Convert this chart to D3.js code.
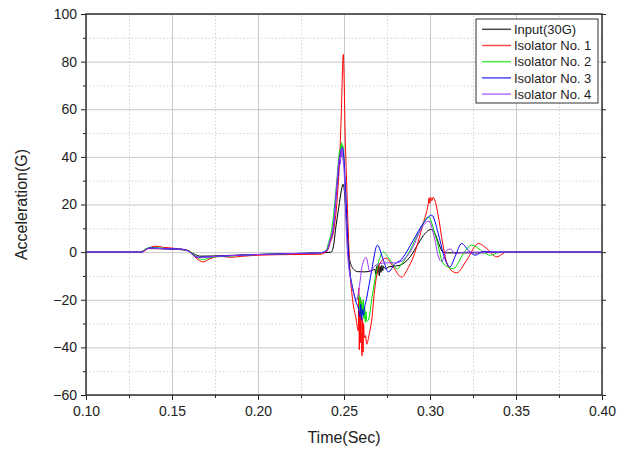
<!DOCTYPE html>
<html>
<head>
<meta charset="utf-8">
<script src="https://cdn.jsdelivr.net/npm/d3@7"></script>
<style>
body{margin:0;background:#fff;}
text{font-family:"Liberation Sans",Arial,sans-serif;fill:#222;}
</style>
</head>
<body>
<div id="container"></div>
<script>
let w = 628;
let h = 450;

// data: [time (s), acceleration (G)]
let legendLabels = ["Input(30G)", "Isolator No. 1", "Isolator No. 2", "Isolator No. 3", "Isolator No. 4"];
let lineColors = ["#000000", "#ff0000", "#00e000", "#0000ff", "#9933ff"];
let xMajor = [0.10, 0.15, 0.20, 0.25, 0.30, 0.35, 0.40];
let xMinor = [0.125, 0.175, 0.225, 0.275, 0.325, 0.375];
let yMajor = [-60, -40, -20, 0, 20, 40, 60, 80, 100];
let yMinor = [-50, -30, -10, 10, 30, 50, 70, 90];

let inputData = [[0.100,0],[0.131,0],[0.134,0.8],[0.1362,1.5],[0.150,1.2],[0.1585,0.8],[0.162,-0.5],[0.1663,-1.7],[0.175,-1.6],[0.190,-1.2],[0.200,-1.0],[0.220,-0.6],[0.236,-0.3],[0.2425,0],
  [0.2440,3],[0.2450,9],[0.2470,19],[0.2485,26],[0.2494,28.5],[0.2500,27],[0.2510,18],[0.2520,6],[0.2530,-2],[0.2545,-6],[0.2560,-7.5],[0.2580,-8.2],[0.2620,-8.3],[0.2660,-7.8],
  [0.2680,-7.2],[0.2685,-9.5],[0.2690,-6],[0.2695,-9],[0.2700,-5.5],[0.2705,-10],[0.2710,-6],[0.2715,-8.5],[0.2720,-5.5],[0.2725,-7.8],[0.2730,-6],[0.2740,-7],[0.2760,-6.2],[0.2800,-5.8],
  [0.2826,-5.5],[0.2884,-2],[0.2932,3.6],[0.2971,7.8],[0.3004,9.5],[0.3029,7.8],[0.3054,3],[0.3074,0.1],[0.3100,-0.3],[0.3300,-0.3],[0.3400,0],[0.4000,0]];

let iso1Data = [[0.100,0],[0.1325,0],[0.136,1.5],[0.1401,2.5],[0.145,2.0],[0.155,1.3],[0.160,0.5],[0.1640,-2.5],[0.1682,-4.1],[0.172,-2.8],[0.178,-1.7],[0.184,-2.2],[0.190,-1.8],[0.200,-1.3],[0.220,-1.0],[0.236,-0.9],[0.2400,0.3],
  [0.2420,4],[0.2440,9],[0.2460,22],[0.2475,40],[0.2485,60],[0.2492,78],[0.2496,83],[0.2500,75],[0.2505,55],[0.2515,30],[0.2525,8],[0.2535,-8],[0.2550,-20],[0.2570,-28],[0.2583,-33],
  [0.2586,-15],[0.2589,-41],[0.2592,-25],[0.2595,-38],[0.2598,-20],[0.2602,-40],[0.2605,-43.5],[0.2608,-28],[0.2611,-42],[0.2614,-30],[0.2618,-36],[0.2625,-35],[0.2632,-38.7],[0.2645,-35],
  [0.2661,-28.6],[0.2680,-14.6],[0.2709,-4.8],[0.2745,-2.5],[0.2780,-5.5],[0.2835,-10.5],[0.2870,-7],[0.2903,-2],[0.2960,12],[0.2990,20.4],[0.2995,22.8],[0.2999,20.5],[0.3004,23],[0.3010,21.5],[0.3018,23],
  [0.3027,22],[0.3049,14.8],[0.3077,2.2],[0.3107,-6.2],[0.3155,-8.7],[0.3213,-3.4],[0.3281,3.6],[0.3330,1.5],[0.3388,-2],[0.3446,0.1],[0.3500,0],[0.4000,0]];

let iso2Data = [[0.100,0],[0.1320,0],[0.135,1.5],[0.138,2.0],[0.145,1.6],[0.155,1.2],[0.160,0.4],[0.1640,-2],[0.1682,-3.1],[0.173,-2.2],[0.180,-1.8],[0.190,-1.4],[0.200,-1.0],[0.220,-0.6],[0.236,-0.3],[0.2395,0.5],
  [0.2410,4],[0.2428,9.2],[0.2457,29],[0.2470,40],[0.2475,43],[0.2478,40],[0.2481,45],[0.2483,41],[0.2486,46],[0.2489,43],[0.2492,45],[0.2500,38],[0.2510,20],[0.2520,5],[0.2530,-5],[0.2550,-15],[0.2575,-20],
  [0.2588,-18],[0.2592,-24],[0.2596,-19],[0.2600,-27],[0.2604,-21],[0.2608,-26],[0.2612,-20],[0.2616,-28],[0.2620,-23],[0.2624,-29.5],[0.2628,-25],[0.2632,-29],[0.2641,-28.6],[0.2665,-18],[0.2690,-7.6],
  [0.2729,0.1],[0.2760,-2.5],[0.2810,-7],[0.2835,-5],[0.2884,0.8],[0.2942,9.2],[0.2990,14.8],[0.3039,5],[0.3077,-4.8],[0.3136,-6.9],[0.3194,-0.6],[0.3242,2.9],[0.3310,0.1],[0.3349,-1.3],[0.3400,-0.2],[0.3500,0],[0.4000,0]];

let iso3Data = [[0.100,0],[0.1325,0],[0.135,1.2],[0.137,1.8],[0.145,1.5],[0.155,1.3],[0.160,0.3],[0.1630,-1.6],[0.166,-2.2],[0.175,-1.8],[0.190,-1.3],[0.200,-1.0],[0.220,-0.6],[0.236,-0.3],[0.2400,0.8],
  [0.2420,5],[0.2436,9.2],[0.2460,28],[0.2480,42],[0.2490,44],[0.2498,41],[0.2510,25],[0.2520,8],[0.2530,-5],[0.2550,-15],[0.2570,-21],[0.2585,-24],[0.2592,-27],[0.2597,-22],[0.2603,-28.6],
  [0.2608,-24],[0.2613,-26.5],[0.2620,-23],[0.2630,-20],[0.2645,-14],[0.2661,-7.6],[0.2694,2.9],[0.2729,-3.4],[0.2758,-8.3],[0.2797,-4.8],[0.2826,-3.6],[0.2903,5],[0.2960,12],[0.3010,15.5],
  [0.3048,7.8],[0.3077,-0.6],[0.3116,-6.2],[0.3145,-2],[0.3184,3.6],[0.3223,0.8],[0.3262,-1.3],[0.3310,0.3],[0.3400,0],[0.4000,0]];

let iso4Data = [[0.100,0],[0.1325,0],[0.135,1.2],[0.137,1.7],[0.145,1.4],[0.155,1.2],[0.160,0.2],[0.1630,-1.8],[0.166,-2.3],[0.175,-1.8],[0.190,-1.3],[0.200,-1.0],[0.220,-0.6],[0.236,-0.3],[0.2400,0.6],
  [0.2420,5],[0.2440,12],[0.2460,30],[0.2475,40],[0.2479,37],[0.2482,43],[0.2485,40],[0.2488,44],[0.2492,40],[0.2500,35],[0.2510,15],[0.2520,0],[0.2535,-10],[0.2555,-17],[0.2574,-20],
  [0.2590,-14],[0.2605,-6],[0.2628,-2.2],[0.2651,-8.3],[0.2670,-6.5],[0.2700,-5],[0.2750,-4.5],[0.2800,-4.5],[0.2850,-3],[0.2900,2],[0.2950,10],[0.2994,13],[0.3029,5],[0.3049,-2],
  [0.3068,-4],[0.3097,0.8],[0.3120,1.3],[0.3145,-0.6],[0.3200,0],[0.4000,0]];

let allSeries = [inputData, iso1Data, iso2Data, iso3Data, iso4Data];

let plotLeft = 86, plotRight = 602, plotTop = 14, plotBottom = 395;

let viz = d3.select("#container")
.append("svg")
.attr("width", w)
.attr("height", h)
.style("background-color", "white")
;

let xScale = d3.scaleLinear().domain([0.10, 0.40]).range([plotLeft, plotRight]);
let yScale = d3.scaleLinear().domain([-60, 100]).range([plotBottom, plotTop]);

// grid lines
let gridGroup = viz.append("g").attr("class", "grid");
gridGroup.append("g")
  .attr("transform", "translate(0," + plotBottom + ")")
  .call(d3.axisBottom(xScale).tickValues(xMinor).tickSize(-(plotBottom - plotTop)).tickFormat(""))
  .call(g => g.select(".domain").remove())
  .selectAll("line").attr("stroke", "#d4d4d4").attr("stroke-dasharray", "1.5,2");
gridGroup.append("g")
  .attr("transform", "translate(" + plotLeft + ",0)")
  .call(d3.axisLeft(yScale).tickValues(yMinor).tickSize(-(plotRight - plotLeft)).tickFormat(""))
  .call(g => g.select(".domain").remove())
  .selectAll("line").attr("stroke", "#d4d4d4").attr("stroke-dasharray", "1.5,2");
gridGroup.append("g")
  .attr("transform", "translate(0," + plotBottom + ")")
  .call(d3.axisBottom(xScale).tickValues(xMajor).tickSize(-(plotBottom - plotTop)).tickFormat(""))
  .call(g => g.select(".domain").remove())
  .selectAll("line").attr("stroke", "#c8c8c8");
gridGroup.append("g")
  .attr("transform", "translate(" + plotLeft + ",0)")
  .call(d3.axisLeft(yScale).tickValues(yMajor).tickSize(-(plotRight - plotLeft)).tickFormat(""))
  .call(g => g.select(".domain").remove())
  .selectAll("line").attr("stroke", "#c8c8c8");

// lines
viz.append("clipPath").attr("id", "clip")
  .append("rect").attr("x", plotLeft).attr("y", plotTop).attr("width", plotRight - plotLeft).attr("height", plotBottom - plotTop);

let lineMaker = d3.line()
  .x(d => xScale(d[0]))
  .y(d => yScale(d[1]))
  .curve(d3.curveMonotoneX);

let lineGroup = viz.append("g").attr("clip-path", "url(#clip)");
lineGroup.selectAll("path").data(allSeries).enter()
  .append("path")
  .attr("d", lineMaker)
  .attr("fill", "none")
  .attr("stroke", (d, i) => lineColors[i])
  .attr("stroke-width", 1)
  .attr("stroke-linejoin", "round");

// axes: major ticks + minor ticks, all pointing out
function styleAxis(g){
  g.select(".domain").remove();
  g.selectAll("line").attr("stroke", "#222").attr("stroke-width", 1);
  g.selectAll("text").style("font-size", "14px").attr("fill", "#222");
}

let xAxisGroup = viz.append("g").attr("transform", "translate(0," + plotBottom + ")");
xAxisGroup.call(d3.axisBottom(xScale).tickValues(xMajor).tickSize(5).tickPadding(6).tickFormat(d3.format(".2f"))).call(styleAxis);
viz.append("g").attr("transform", "translate(0," + plotBottom + ")")
  .call(d3.axisBottom(xScale).tickValues(xMinor).tickSize(3).tickFormat("")).call(styleAxis);

let yAxisGroup = viz.append("g").attr("transform", "translate(" + plotLeft + ",0)");
yAxisGroup.call(d3.axisLeft(yScale).tickValues(yMajor).tickSize(5).tickPadding(4).tickFormat(d3.format("d"))).call(styleAxis);
viz.append("g").attr("transform", "translate(" + plotLeft + ",0)")
  .call(d3.axisLeft(yScale).tickValues(yMinor).tickSize(3).tickFormat("")).call(styleAxis);

// mirrored ticks on the right side
viz.append("g").attr("transform", "translate(" + plotRight + ",0)")
  .call(d3.axisRight(yScale).tickValues(yMajor).tickSize(4).tickFormat("")).call(styleAxis);

// frame
viz.append("rect")
  .attr("x", plotLeft).attr("y", plotTop)
  .attr("width", plotRight - plotLeft).attr("height", plotBottom - plotTop)
  .attr("fill", "none").attr("stroke", "#333").attr("stroke-width", 1.5);

// axis titles
viz.append("text")
  .attr("x", (plotLeft + plotRight) / 2).attr("y", 443)
  .attr("text-anchor", "middle")
  .style("font-size", "16px")
  .text("Time(Sec)");
viz.append("text")
  .attr("transform", "translate(27," + ((plotTop + plotBottom) / 2) + ") rotate(-90)")
  .attr("text-anchor", "middle")
  .style("font-size", "16px")
  .text("Acceleration(G)");

// legend
let legend = viz.append("g").attr("class", "legend");
legend.append("rect")
  .attr("x", 476).attr("y", 19).attr("width", 122).attr("height", 84)
  .attr("fill", "white").attr("stroke", "#333").attr("stroke-width", 1);
let items = legend.selectAll(".item").data(legendLabels).enter()
  .append("g")
  .attr("class", "item")
  .attr("transform", (d, i) => "translate(0," + (29.3 + i * 16.2) + ")");
items.append("line")
  .attr("x1", 482).attr("x2", 511).attr("y1", 0).attr("y2", 0)
  .attr("stroke", (d, i) => lineColors[i]).attr("stroke-width", 1.5).attr("opacity", 0.7);
items.append("text")
  .attr("x", 514).attr("y", 0).attr("dy", "0.36em")
  .style("font-size", "13px")
  .text(d => d);
</script>
</body>
</html>
